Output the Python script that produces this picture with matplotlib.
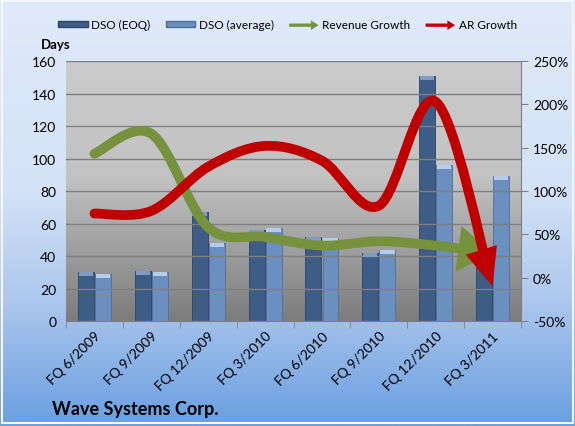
import numpy as np
import matplotlib
matplotlib.use("Agg")
import matplotlib.pyplot as plt
from matplotlib.path import Path
from matplotlib.patches import FancyArrowPatch, FancyArrow, Patch, Rectangle
from matplotlib.legend_handler import HandlerPatch
from matplotlib.colors import LinearSegmentedColormap

plt.rcParams['font.family'] = ['Lato', 'DejaVu Sans']

quarters = ['FQ 6/2009', 'FQ 9/2009', 'FQ 12/2009', 'FQ 3/2010',
            'FQ 6/2010', 'FQ 9/2010', 'FQ 12/2010', 'FQ 3/2011']
dso_eoq = [30, 31, 67, 56, 52, 42, 151, 38]
dso_avg = [29, 30, 48, 57, 51, 44, 96, 89]
revenue_growth = [143, 166, 58, 47, 37, 42, 37, 28]
ar_growth = [74, 77, 128, 152, 135, 83, 203, -10]

EOQ_COL = '#3d5d86'
AVG_COL = '#6b90c0'
REV_COL = '#76923c'
AR_COL = '#c00000'


def smooth_path(xs, ys):
    # Excel-like smoothed line: Catmull-Rom segments as cubic Beziers
    pts = np.column_stack([xs, ys]).astype(float)
    n = len(pts)
    verts = [pts[0]]
    codes = [Path.MOVETO]
    for i in range(n - 1):
        p0 = pts[i - 1] if i > 0 else pts[i]
        p1, p2 = pts[i], pts[i + 1]
        p3 = pts[i + 2] if i + 2 < n else pts[i + 1]
        verts += [p1 + (p2 - p0) / 6, p2 - (p3 - p1) / 6, p2]
        codes += [Path.CURVE4] * 3
    return Path(verts, codes)


def make_arrow(legend, orig_handle, xdescent, ydescent, width, height, fontsize):
    return FancyArrow(0, height / 2, width, 0, width=height * 0.55,
                      head_width=height * 1.6, head_length=height * 1.3,
                      length_includes_head=True)


fig = plt.figure(figsize=(5.75, 4.27), dpi=100)

# figure background gradient
bg = fig.add_axes([0, 0, 1, 1], zorder=-10)
bg.imshow(np.linspace(0, 1, 256)[:, None], aspect='auto', extent=[0, 1, 0, 1],
          origin='upper',
          cmap=LinearSegmentedColormap.from_list(
              'bgc', [(0, '#e0eafa'), (0.45, '#d3e2f7'), (0.7, '#aec8ee'),
                      (1, '#6a9fe0')]))
bg.add_patch(Rectangle((0.003, 0.006), 0.994, 0.99, fill=False,
                       edgecolor='#f4f8fe', lw=1.5))
bg.set_xlim(0, 1)
bg.set_ylim(0, 1)
bg.axis('off')

ax = fig.add_axes([0.1148, 0.2459, 0.7913, 0.6089])
ax.set_facecolor('none')
ax.imshow(np.linspace(0, 1, 256)[:, None], aspect='auto',
          extent=[-0.5, 7.5, 0, 160], origin='upper', zorder=0,
          cmap=LinearSegmentedColormap.from_list(
              'pa', [(0, '#cbcbcb'), (0.45, '#c2c2c2'), (1, '#7c7c7c')]))

x = np.arange(len(quarters))
w = 0.28
ax.bar(x - 0.15, dso_eoq, w, color=EOQ_COL, edgecolor='#2c4466', lw=0.6, zorder=2)
ax.bar(x + 0.15, dso_avg, w, color=AVG_COL, edgecolor='#4e6f9b', lw=0.6, zorder=2)
# lighter bevelled caps on the bars
cap = 2.5
ax.bar(x - 0.15, cap, w * 0.9, bottom=np.array(dso_eoq) - cap,
       color='#7f9cc4', lw=0, zorder=3)
ax.bar(x + 0.15, cap, w * 0.9, bottom=np.array(dso_avg) - cap,
       color='#b4cdea', lw=0, zorder=3)

ax.set_xlim(-0.5, 7.5)
ax.set_ylim(0, 160)
ax.set_yticks(range(0, 161, 20))
ax.yaxis.grid(True, color='#7f7f7f', lw=1)
ax.set_axisbelow(False)
ax.tick_params(axis='y', length=0, labelsize=10, pad=7)
ax.set_xticks(x)
ax.set_xticklabels(quarters, rotation=45, ha='right', rotation_mode='anchor', fontsize=10)
ax.tick_params(axis='x', length=0, pad=6)
ax.set_xticks(np.arange(-0.5, 8, 1), minor=True)
ax.tick_params(axis='x', which='minor', length=5, color='#7f7f7f')
for s in ['top', 'right', 'left']:
    ax.spines[s].set_visible(False)
ax.spines['bottom'].set_color('#7f7f7f')
for gl in ax.yaxis.get_gridlines():
    gl.set_zorder(1)

ax2 = ax.twinx()
ax2.set_ylim(-50, 250)
ax2.set_yticks(range(-50, 251, 50))
ax2.set_yticklabels([f'{v}%' for v in range(-50, 251, 50)])
ax2.tick_params(axis='y', length=5, color='#7f7f7f', labelsize=10)
for s in ['top', 'left', 'bottom']:
    ax2.spines[s].set_visible(False)
ax2.spines['right'].set_color('#7f7f7f')

for series, color, hw in [(revenue_growth, REV_COL, 0.5), (ar_growth, AR_COL, 0.32)]:
    arr = FancyArrowPatch(path=smooth_path(x, series), transform=ax2.transData,
                          arrowstyle=f'-|>,head_length=0.75,head_width={hw}',
                          mutation_scale=20, lw=7, color=color,
                          capstyle='round', joinstyle='miter',
                          shrinkA=0, shrinkB=0, zorder=5)
    ax2.add_patch(arr)

fig.text(0.096, 0.885, 'Days', fontsize=9.5, fontweight='bold', ha='center')
fig.text(0.09, 0.027, 'Wave Systems Corp.', fontsize=13, fontweight='bold')

handles = [Patch(facecolor=EOQ_COL, edgecolor='#2c4466'),
           Patch(facecolor=AVG_COL, edgecolor='#4e6f9b'),
           Patch(facecolor=REV_COL),
           Patch(facecolor=AR_COL)]
labels = ['DSO (EOQ)', 'DSO (average)', 'Revenue Growth', 'AR Growth']
hm = {h: HandlerPatch(patch_func=make_arrow) for h in handles[2:]}
fig.legend(handles, labels, loc='center', bbox_to_anchor=(0.5, 0.94), ncol=4,
           frameon=False, fontsize=8.5, handlelength=2.5, handleheight=0.4,
           columnspacing=1.3, handletextpad=0.3, handler_map=hm)

fig.savefig('out.png', dpi=100)
